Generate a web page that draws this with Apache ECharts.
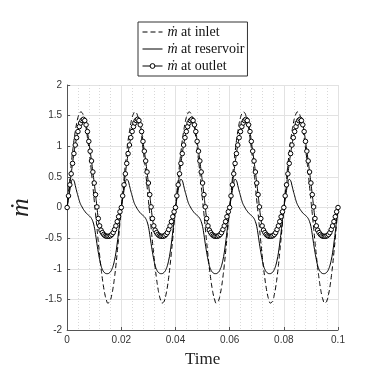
<!DOCTYPE html>
<html>
<head>
<meta charset="utf-8">
<script src="https://cdn.jsdelivr.net/npm/echarts@6/dist/echarts.min.js"></script>
<style>
  html, body { margin: 0; padding: 0; background: #fff; }
  #main { width: 374px; height: 373px; }
</style>
</head>
<body>
<div id="main"></div>
<script>
  // sampling step of the time axis (s)
  const timeStep = 0.0005

  // mass flow at inlet (dashed)
  const inletValues = [
    0, 0.24, 0.47, 0.70, 0.90, 1.09, 1.24, 1.37, 1.47, 1.53, 1.56, 1.55, 1.50, 1.41, 1.30, 1.14, 0.97, 0.78, 0.57, 0.35, 0.12, -0.10, -0.33, -0.56, -0.78, -0.98, -1.16, -1.31, -1.43, -1.51, -1.56, -1.55, -1.51, -1.42, -1.30, -1.14, -0.95, -0.73, -0.50, -0.25,
    0, 0.24, 0.47, 0.70, 0.90, 1.09, 1.24, 1.37, 1.47, 1.53, 1.56, 1.55, 1.50, 1.41, 1.30, 1.14, 0.97, 0.78, 0.57, 0.35, 0.12, -0.10, -0.33, -0.56, -0.78, -0.98, -1.16, -1.31, -1.43, -1.51, -1.56, -1.55, -1.51, -1.42, -1.30, -1.14, -0.95, -0.73, -0.50, -0.25,
    0, 0.24, 0.47, 0.70, 0.90, 1.09, 1.24, 1.37, 1.47, 1.53, 1.56, 1.55, 1.50, 1.41, 1.30, 1.14, 0.97, 0.78, 0.57, 0.35, 0.12, -0.10, -0.33, -0.56, -0.78, -0.98, -1.16, -1.31, -1.43, -1.51, -1.56, -1.55, -1.51, -1.42, -1.30, -1.14, -0.95, -0.73, -0.50, -0.25,
    0, 0.24, 0.47, 0.70, 0.90, 1.09, 1.24, 1.37, 1.47, 1.53, 1.56, 1.55, 1.50, 1.41, 1.30, 1.14, 0.97, 0.78, 0.57, 0.35, 0.12, -0.10, -0.33, -0.56, -0.78, -0.98, -1.16, -1.31, -1.43, -1.51, -1.56, -1.55, -1.51, -1.42, -1.30, -1.14, -0.95, -0.73, -0.50, -0.25,
    0, 0.24, 0.47, 0.70, 0.90, 1.09, 1.24, 1.37, 1.47, 1.53, 1.56, 1.55, 1.50, 1.41, 1.30, 1.14, 0.97, 0.78, 0.57, 0.35, 0.12, -0.10, -0.33, -0.56, -0.78, -0.98, -1.16, -1.31, -1.43, -1.51, -1.56, -1.55, -1.51, -1.42, -1.30, -1.14, -0.95, -0.73, -0.50, -0.25, 0
  ]

  // mass flow at reservoir (solid)
  const reservoirValues = [
    0, 0.14, 0.28, 0.40, 0.46, 0.44, 0.36, 0.27, 0.19, 0.11, 0.05, 0.01, -0.03, -0.06, -0.09, -0.11, -0.13, -0.15, -0.18, -0.23, -0.31, -0.44, -0.59, -0.73, -0.85, -0.95, -1.01, -1.05, -1.07, -1.08, -1.08, -1.07, -1.05, -1.01, -0.95, -0.86, -0.74, -0.58, -0.40, -0.20,
    0, 0.14, 0.28, 0.40, 0.46, 0.44, 0.36, 0.27, 0.19, 0.11, 0.05, 0.01, -0.03, -0.06, -0.09, -0.11, -0.13, -0.15, -0.18, -0.23, -0.31, -0.44, -0.59, -0.73, -0.85, -0.95, -1.01, -1.05, -1.07, -1.08, -1.08, -1.07, -1.05, -1.01, -0.95, -0.86, -0.74, -0.58, -0.40, -0.20,
    0, 0.14, 0.28, 0.40, 0.46, 0.44, 0.36, 0.27, 0.19, 0.11, 0.05, 0.01, -0.03, -0.06, -0.09, -0.11, -0.13, -0.15, -0.18, -0.23, -0.31, -0.44, -0.59, -0.73, -0.85, -0.95, -1.01, -1.05, -1.07, -1.08, -1.08, -1.07, -1.05, -1.01, -0.95, -0.86, -0.74, -0.58, -0.40, -0.20,
    0, 0.14, 0.28, 0.40, 0.46, 0.44, 0.36, 0.27, 0.19, 0.11, 0.05, 0.01, -0.03, -0.06, -0.09, -0.11, -0.13, -0.15, -0.18, -0.23, -0.31, -0.44, -0.59, -0.73, -0.85, -0.95, -1.01, -1.05, -1.07, -1.08, -1.08, -1.07, -1.05, -1.01, -0.95, -0.86, -0.74, -0.58, -0.40, -0.20,
    0, 0.14, 0.28, 0.40, 0.46, 0.44, 0.36, 0.27, 0.19, 0.11, 0.05, 0.01, -0.03, -0.06, -0.09, -0.11, -0.13, -0.15, -0.18, -0.23, -0.31, -0.44, -0.59, -0.73, -0.85, -0.95, -1.01, -1.05, -1.07, -1.08, -1.08, -1.07, -1.05, -1.01, -0.95, -0.86, -0.74, -0.58, -0.40, -0.20, 0
  ]

  // mass flow at outlet (line with circles)
  const outletValues = [
    0, 0.19, 0.37, 0.55, 0.72, 0.88, 1.02, 1.14, 1.24, 1.32, 1.38, 1.42, 1.44, 1.42, 1.35, 1.24, 1.08, 0.92, 0.76, 0.58, 0.40, 0.21, 0.01, -0.18, -0.30, -0.37, -0.41, -0.44, -0.46, -0.47, -0.47, -0.47, -0.46, -0.44, -0.41, -0.36, -0.30, -0.23, -0.15, -0.07,
    0, 0.19, 0.37, 0.55, 0.72, 0.88, 1.02, 1.14, 1.24, 1.32, 1.38, 1.42, 1.44, 1.42, 1.35, 1.24, 1.08, 0.92, 0.76, 0.58, 0.40, 0.21, 0.01, -0.18, -0.30, -0.37, -0.41, -0.44, -0.46, -0.47, -0.47, -0.47, -0.46, -0.44, -0.41, -0.36, -0.30, -0.23, -0.15, -0.07,
    0, 0.19, 0.37, 0.55, 0.72, 0.88, 1.02, 1.14, 1.24, 1.32, 1.38, 1.42, 1.44, 1.42, 1.35, 1.24, 1.08, 0.92, 0.76, 0.58, 0.40, 0.21, 0.01, -0.18, -0.30, -0.37, -0.41, -0.44, -0.46, -0.47, -0.47, -0.47, -0.46, -0.44, -0.41, -0.36, -0.30, -0.23, -0.15, -0.07,
    0, 0.19, 0.37, 0.55, 0.72, 0.88, 1.02, 1.14, 1.24, 1.32, 1.38, 1.42, 1.44, 1.42, 1.35, 1.24, 1.08, 0.92, 0.76, 0.58, 0.40, 0.21, 0.01, -0.18, -0.30, -0.37, -0.41, -0.44, -0.46, -0.47, -0.47, -0.47, -0.46, -0.44, -0.41, -0.36, -0.30, -0.23, -0.15, -0.07,
    0, 0.19, 0.37, 0.55, 0.72, 0.88, 1.02, 1.14, 1.24, 1.32, 1.38, 1.42, 1.44, 1.42, 1.35, 1.24, 1.08, 0.92, 0.76, 0.58, 0.40, 0.21, 0.01, -0.18, -0.30, -0.37, -0.41, -0.44, -0.46, -0.47, -0.47, -0.47, -0.46, -0.44, -0.41, -0.36, -0.30, -0.23, -0.15, -0.07, 0
  ]

  const legendNames = ['inlet', 'reservoir', 'outlet']

  const withTime = (values) => values.map((v, i) => [+(i * timeStep).toFixed(4), v])

  const serif = 'Liberation Serif'
  const sans = 'Liberation Sans'

  const chart = echarts.init(document.getElementById('main'))
  const option = {
    animation: false,
    backgroundColor: '#fff',
    legend: {
      orient: 'vertical',
      left: 138,
      top: 22,
      padding: [3, 3, 3, 4],
      itemGap: 3,
      itemWidth: 20,
      itemHeight: 6,
      borderColor: '#333',
      borderWidth: 1,
      lineStyle: { width: 1 },
      data: [
        { name: legendNames[0], itemStyle: { opacity: 0 } },
        { name: legendNames[1], itemStyle: { opacity: 0 } },
        { name: legendNames[2], itemStyle: { color: '#fff', borderColor: '#000', borderWidth: 1 } }
      ],
      formatter: (name) => '{m|ṁ} at ' + name,
      textStyle: {
        fontFamily: serif,
        fontSize: 14,
        color: '#111',
        rich: {
          m: { fontFamily: serif, fontStyle: 'italic', fontSize: 14, color: '#111' }
        }
      }
    },
    grid: {
      left: 48,
      right: 36,
      top: 85,
      bottom: 35
    },
    xAxis: {
      type: 'value',
      min: 0,
      max: 0.1,
      interval: 0.02,
      name: 'Time',
      nameLocation: 'middle',
      nameGap: 21,
      nameTextStyle: { fontFamily: serif, fontSize: 17, color: '#222' },
      axisLine: { onZero: false, lineStyle: { color: '#555', width: 1 } },
      axisTick: { inside: true, length: 3, lineStyle: { color: '#555' } },
      axisLabel: { fontFamily: sans, fontSize: 10, color: '#333', margin: 5 },
      splitLine: { show: true, lineStyle: { color: '#e2e2e2', width: 1 } },
      minorTick: { show: true, splitNumber: 5, length: 0 },
      minorSplitLine: { show: true, lineStyle: { color: '#d8d8d8', type: [1, 2], width: 1 } }
    },
    yAxis: {
      type: 'value',
      min: -2,
      max: 2,
      interval: 0.5,
      name: 'ṁ',
      nameLocation: 'middle',
      nameRotate: 90,
      nameGap: 32,
      nameTextStyle: { fontFamily: serif, fontStyle: 'italic', fontSize: 26, color: '#222' },
      axisLine: { show: true, onZero: false, lineStyle: { color: '#555', width: 1 } },
      axisTick: { show: true, inside: true, length: 3, lineStyle: { color: '#555' } },
      axisLabel: { fontFamily: sans, fontSize: 10, color: '#333', margin: 5 },
      splitLine: { show: true, lineStyle: { color: '#e2e2e2', width: 1 } }
    },
    series: [
      {
        name: 'inlet',
        type: 'line',
        smooth: true,
        symbol: 'none',
        lineStyle: { color: '#000', width: 1, type: [5, 3] },
        itemStyle: { color: '#000' },
        data: withTime(inletValues)
      },
      {
        name: 'reservoir',
        type: 'line',
        smooth: true,
        symbol: 'none',
        lineStyle: { color: '#000', width: 1 },
        itemStyle: { color: '#000' },
        data: withTime(reservoirValues)
      },
      {
        name: 'outlet',
        type: 'line',
        smooth: true,
        symbol: 'circle',
        symbolSize: 4.5,
        showAllSymbol: true,
        lineStyle: { color: '#000', width: 1 },
        itemStyle: { color: '#fff', borderColor: '#000', borderWidth: 1 },
        data: withTime(outletValues)
      }
    ]
  }
  option && chart.setOption(option)
</script>
</body>
</html>
